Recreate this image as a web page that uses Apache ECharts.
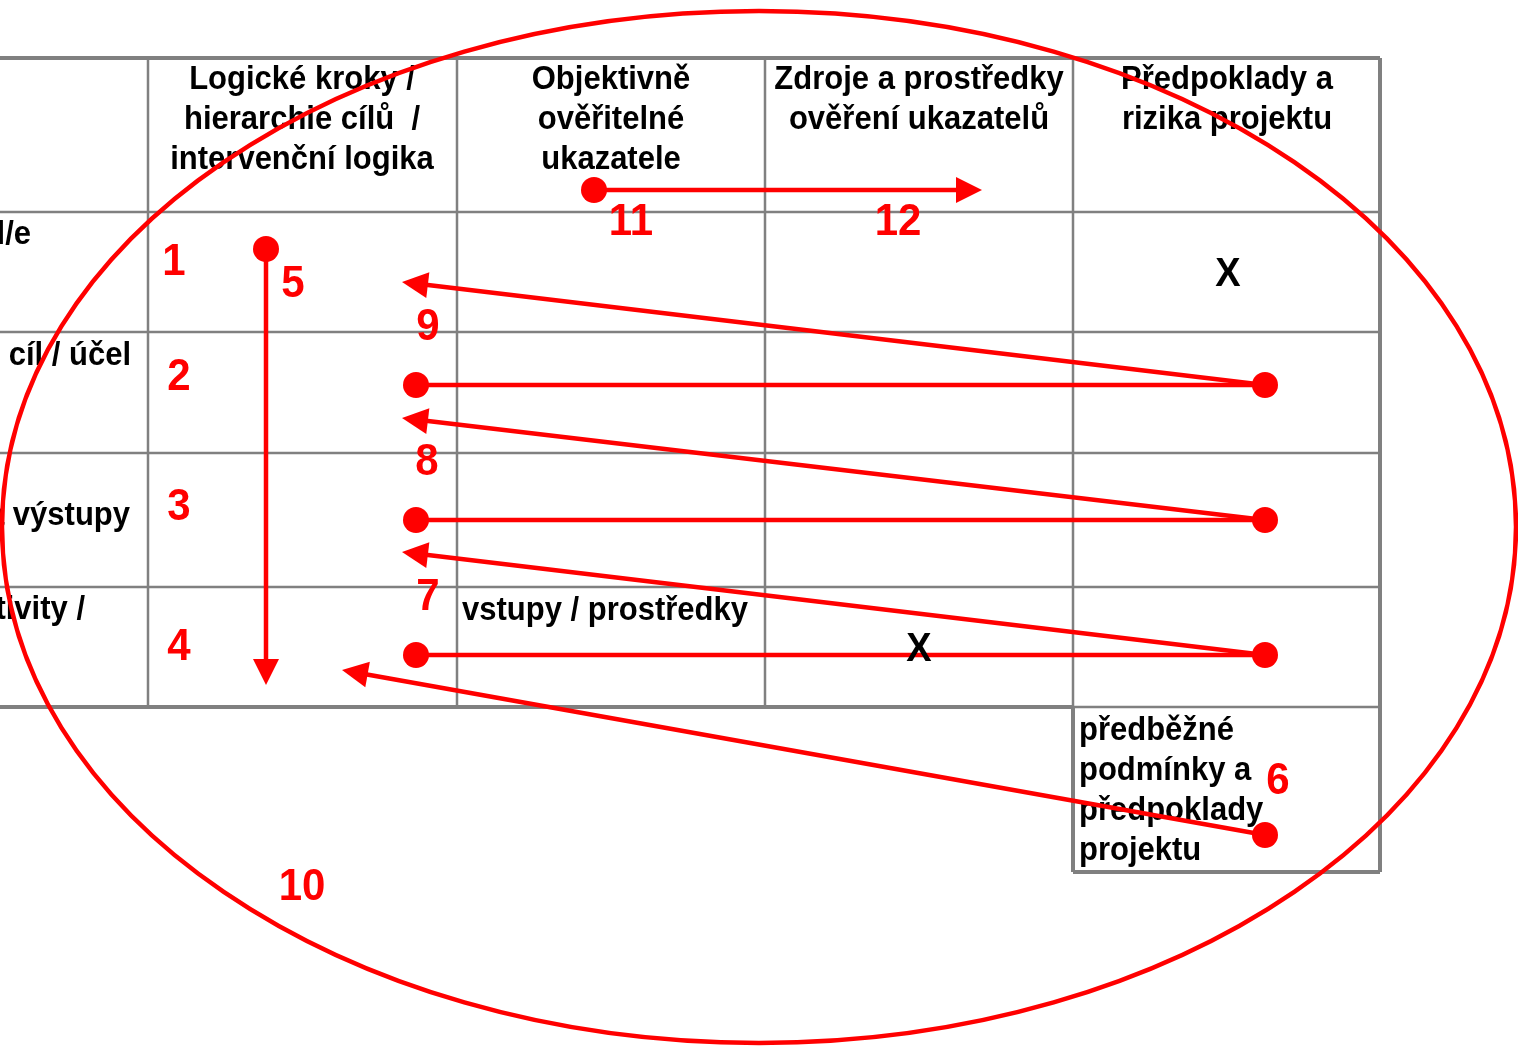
<!DOCTYPE html>
<html>
<head>
<meta charset="utf-8">
<script src="https://cdn.jsdelivr.net/npm/echarts@6/dist/echarts.min.js"></script>
<style>
  html, body { margin: 0; padding: 0; background: #fff; }
  #chart { width: 1518px; height: 1052px; }
</style>
</head>
<body>
<div id="chart"></div>
<script>
// diagram space = picture pixels (x right, y down)
const W = 1518, H = 1052;

// table rulings [x1, y1, x2, y2]
const outerRules = [
  [0, 58, 1380, 58],
  [0, 707, 1073, 707],
  [1380, 58, 1380, 872],
  [1073, 872, 1380, 872],
  [1073, 707, 1073, 872]
];
const innerRules = [
  [0, 212, 1380, 212],
  [0, 332, 1380, 332],
  [0, 453, 1380, 453],
  [0, 587, 1380, 587],
  [1073, 707, 1380, 707],
  [148, 58, 148, 707],
  [457, 58, 457, 707],
  [765, 58, 765, 707],
  [1073, 58, 1073, 707]
];

// black text, centred [text, x, y]
const headerLines = [
  ['Logické kroky /', 302, 80],
  ['hierarchie cílů  /', 302, 120],
  ['intervenční logika', 302, 160],
  ['Objektivně', 611, 80],
  ['ověřitelné', 611, 120],
  ['ukazatele', 611, 160],
  ['Zdroje a prostředky', 919, 80],
  ['ověření ukazatelů', 919, 120],
  ['Předpoklady a', 1227, 80],
  ['rizika projektu', 1227, 120]
];
// first column, cut off at the left edge [text, right x, y]
const rowLabels = [
  ['cíl/e', 31, 235],
  ['cíl / účel', 131, 356],
  ['a výstupy', 130, 516],
  ['Aktivity /', 85, 610]
];
// left aligned [text, x, y]
const cellLines = [
  ['vstupy / prostředky', 462, 611],
  ['předběžné', 1079, 731],
  ['podmínky a', 1079, 771],
  ['předpoklady', 1079, 811],
  ['projektu', 1079, 851]
];
const crosses = [[1228, 275], [919, 650]];

// red step numbers [label, x, y]
const steps = [
  ['1', 174, 263], ['2', 179, 378], ['3', 179, 508], ['4', 179, 648],
  ['5', 293, 285], ['6', 1278, 782], ['7', 428, 598], ['8', 427, 463],
  ['9', 428, 328], ['10', 302, 888], ['11', 631, 223], ['12', 898, 223]
];
// arrows [fromX, fromY, toX, toY], head at "to"
const arrows = [
  [266, 249, 266, 685],
  [594, 190, 982, 190],
  [1265, 385, 402, 282],
  [1265, 520, 402, 418],
  [1265, 655, 402, 552],
  [1265, 835, 342, 670]
];
// plain connectors
const links = [
  [1265, 385, 416, 385],
  [1265, 520, 416, 520],
  [1265, 655, 416, 655]
];
const dots = [
  [266, 249], [594, 190], [1265, 385], [1265, 520], [1265, 655],
  [1265, 835], [416, 385], [416, 520], [416, 655]
];
// ellipse [cx, cy, rx, ry]
const loop = [759, 527, 757, 516];

const RED = '#ff0000';
const GREY = '#808080';
const FONT = '"Liberation Sans", Arial, Helvetica, sans-serif';

const chart = echarts.init(document.getElementById('chart'));

const ruleSeries = (rows, width) => ({
  type: 'custom',
  z: 1,
  data: rows.map(r => [r[0], r[1]]),
  renderItem: (params, api) => {
    const r = rows[params.dataIndex];
    const a = api.coord([r[0], r[1]]);
    const b = api.coord([r[2], r[3]]);
    return {
      type: 'line',
      shape: { x1: a[0], y1: a[1], x2: b[0], y2: b[1] },
      style: { stroke: GREY, lineWidth: width }
    };
  }
});

// text drawn a little taller than wide, like the source slide
const textSeries = (rows, font, color, align, z) => ({
  type: 'custom',
  z: z,
  data: rows.map(r => [r[1], r[2]]),
  renderItem: (params, api) => {
    const r = rows[params.dataIndex];
    const p = api.coord([r[1], r[2]]);
    return {
      type: 'text',
      x: p[0],
      y: p[1],
      scaleY: 1.06,
      style: { text: r[0], x: 0, y: 0, font: font, fill: color, align: align, verticalAlign: 'middle' }
    };
  }
});

const option = {
  animation: false,
  backgroundColor: '#fff',
  grid: { left: 0, right: 0, top: 0, bottom: 0 },
  xAxis: { type: 'value', min: 0, max: W, show: false },
  yAxis: { type: 'value', min: 0, max: H, inverse: true, show: false },
  series: [
    ruleSeries(innerRules, 2.5),
    ruleSeries(outerRules, 4),
    textSeries(headerLines, 'bold 31px ' + FONT, '#000', 'center', 2),
    textSeries(rowLabels, 'bold 31px ' + FONT, '#000', 'right', 2),
    textSeries(cellLines, 'bold 31px ' + FONT, '#000', 'left', 2),
    {
      type: 'custom',
      z: 3,
      data: [[loop[0], loop[1]]],
      renderItem: (params, api) => {
        const c = api.coord([loop[0], loop[1]]);
        const s = api.size([loop[2], loop[3]]);
        return {
          type: 'ellipse',
          shape: { cx: c[0], cy: c[1], rx: s[0], ry: s[1] },
          style: { fill: 'none', stroke: RED, lineWidth: 4.5 }
        };
      }
    },
    {
      type: 'custom',
      z: 3,
      data: links.map(l => [l[0], l[1]]),
      renderItem: (params, api) => {
        const l = links[params.dataIndex];
        const a = api.coord([l[0], l[1]]);
        const b = api.coord([l[2], l[3]]);
        return {
          type: 'line',
          shape: { x1: a[0], y1: a[1], x2: b[0], y2: b[1] },
          style: { stroke: RED, lineWidth: 4.5 }
        };
      }
    },
    {
      type: 'custom',
      z: 3,
      data: arrows.map(l => [l[0], l[1]]),
      renderItem: (params, api) => {
        const l = arrows[params.dataIndex];
        const a = api.coord([l[0], l[1]]);
        const b = api.coord([l[2], l[3]]);
        const ang = Math.atan2(b[1] - a[1], b[0] - a[0]);
        const cos = Math.cos(ang), sin = Math.sin(ang);
        const len = 26, hw = 13;
        const bx = b[0] - len * cos, by = b[1] - len * sin;
        return {
          type: 'group',
          children: [
            {
              type: 'line',
              shape: { x1: a[0], y1: a[1], x2: bx + 2 * cos, y2: by + 2 * sin },
              style: { stroke: RED, lineWidth: 4.5 }
            },
            {
              type: 'polygon',
              shape: { points: [[b[0], b[1]], [bx - hw * sin, by + hw * cos], [bx + hw * sin, by - hw * cos]] },
              style: { fill: RED }
            }
          ]
        };
      }
    },
    {
      type: 'scatter',
      z: 4,
      symbol: 'circle',
      symbolSize: 26,
      itemStyle: { color: RED, opacity: 1 },
      silent: true,
      data: dots
    },
    textSeries(steps, 'bold 42px ' + FONT, RED, 'center', 5),
    textSeries(crosses.map(c => ['X', c[0], c[1]]), 'bold 38px ' + FONT, '#000', 'center', 6)
  ]
};

chart.setOption(option);
</script>
</body>
</html>
